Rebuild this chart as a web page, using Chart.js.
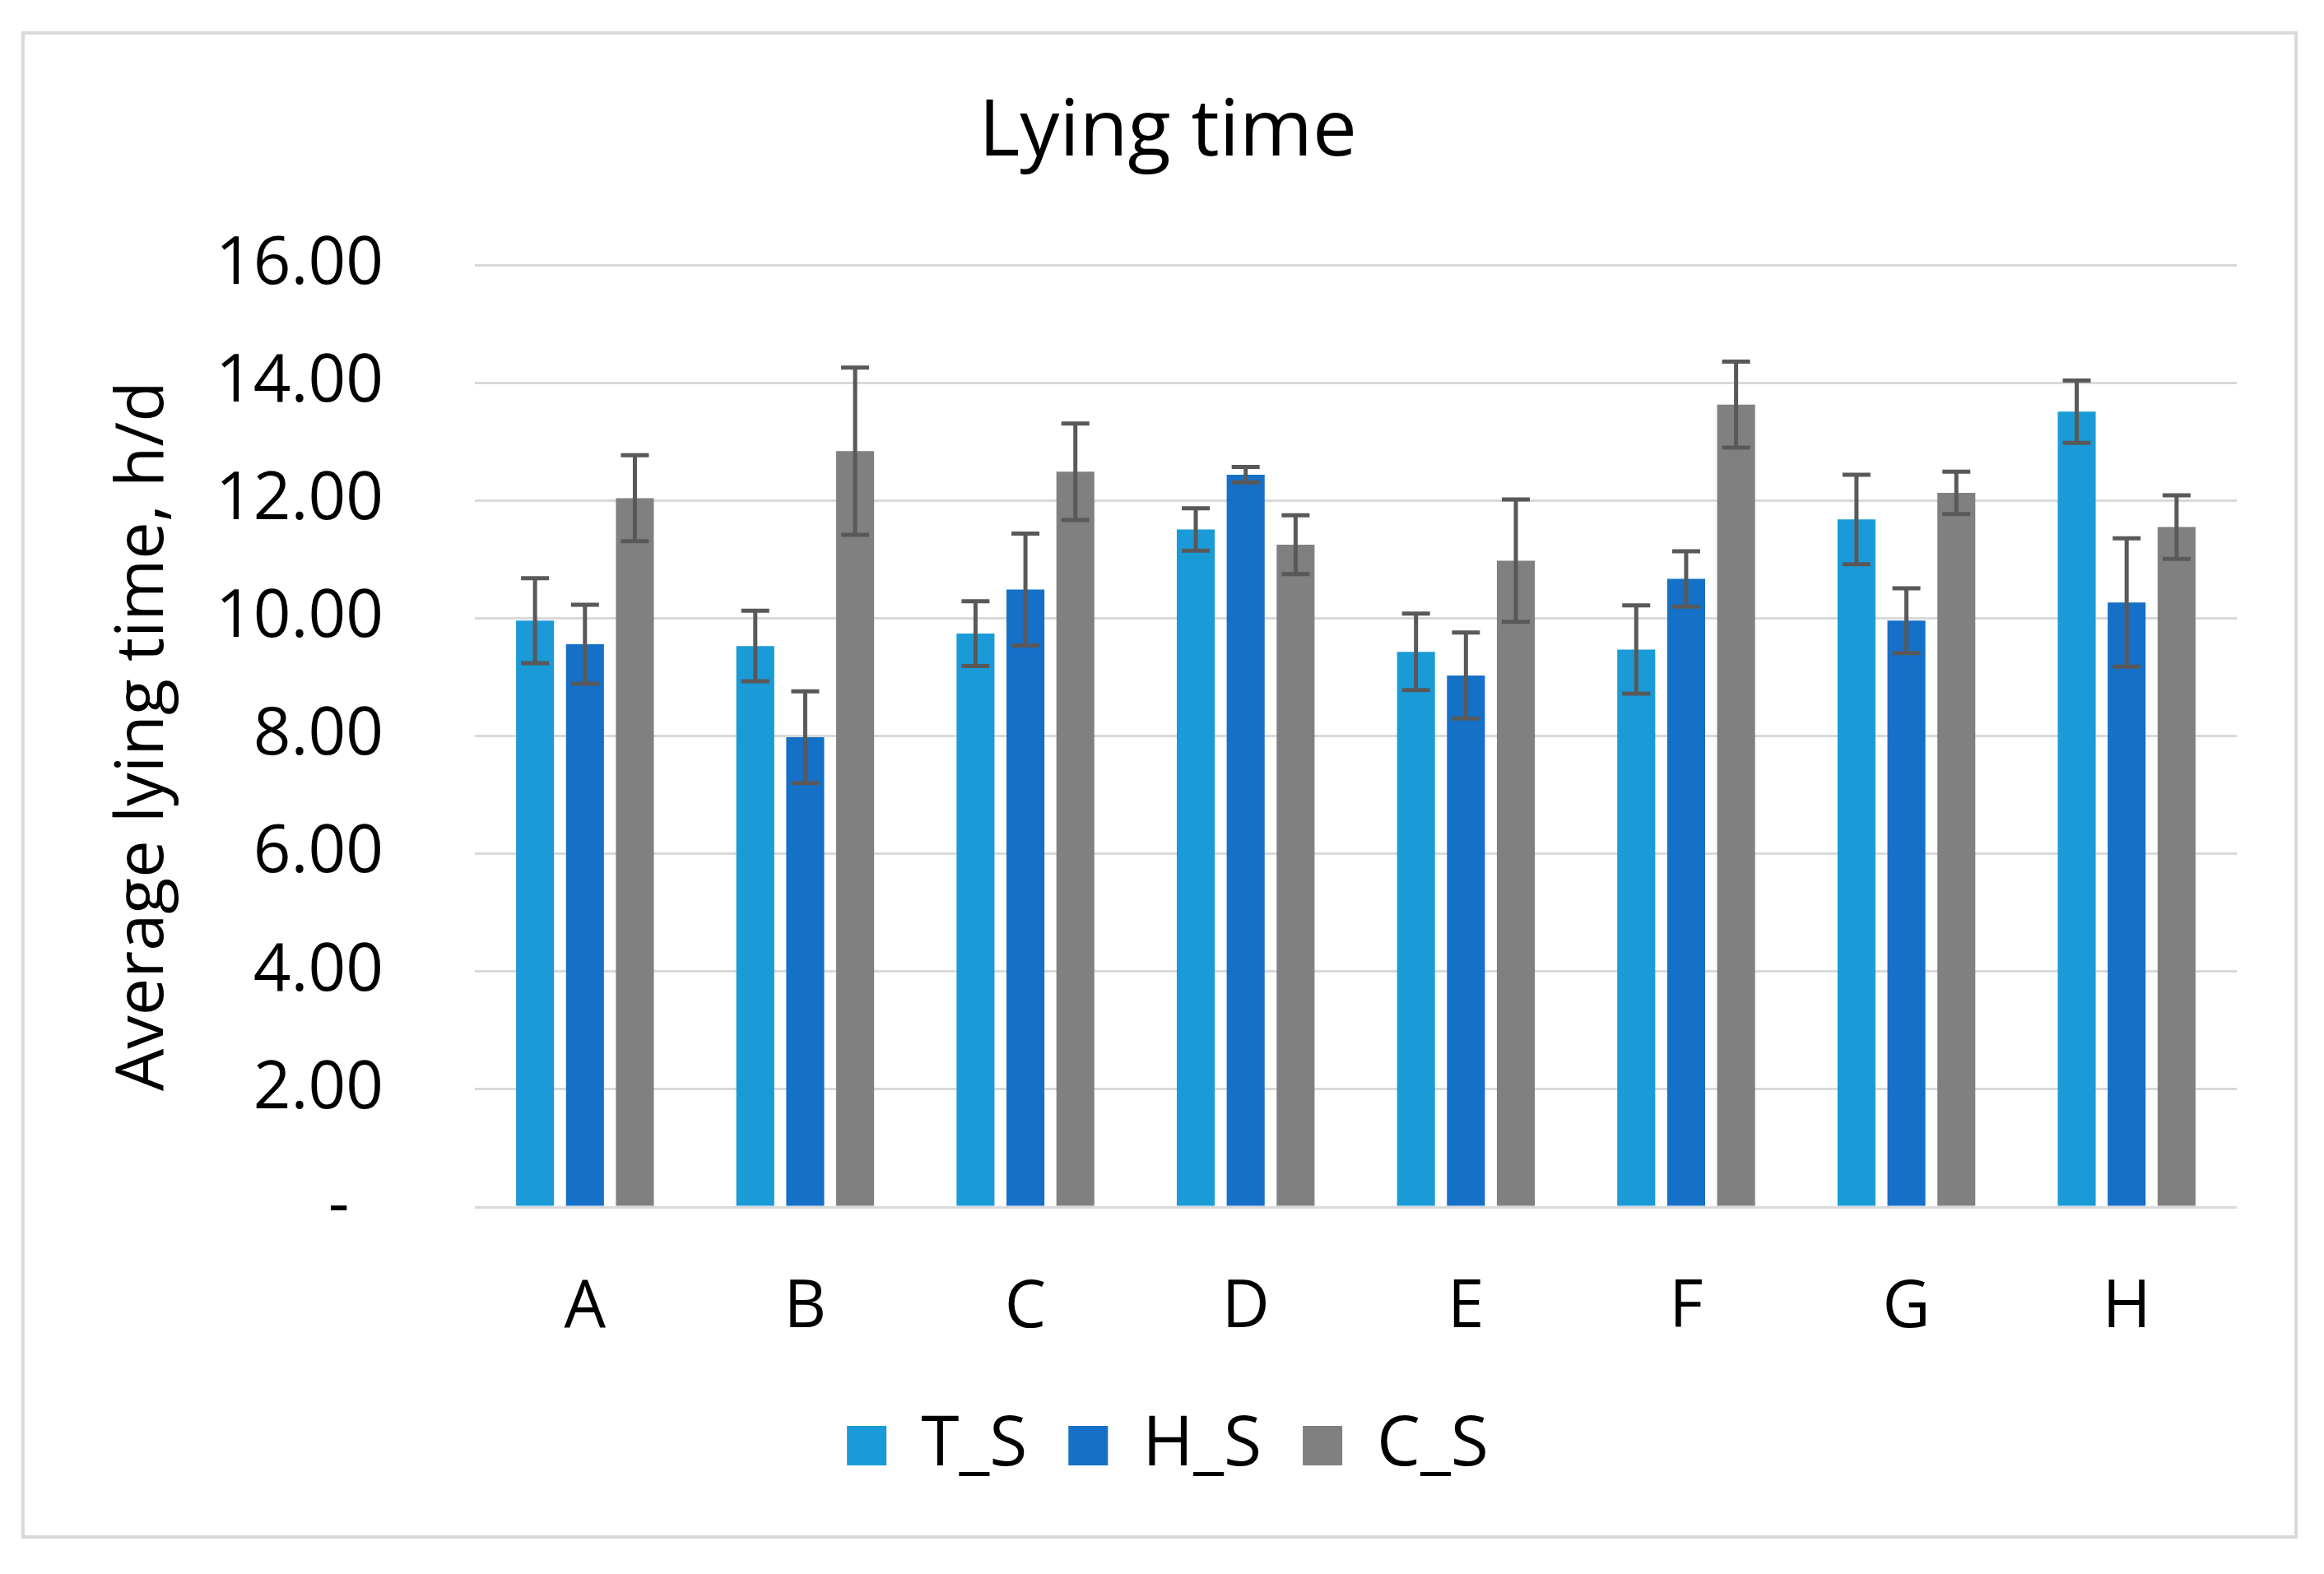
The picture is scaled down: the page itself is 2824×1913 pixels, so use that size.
<!DOCTYPE html>
<html>
<head>
<meta charset="utf-8">
<script src="https://cdn.jsdelivr.net/npm/chart.js@4.4.1/dist/chart.umd.min.js"></script>
<style>
  html, body { margin: 0; padding: 0; background: #fff; }
  #wrap { position: absolute; left: 0; top: 0; width: 2824px; height: 1913px; }
</style>
</head>
<body>
<div id="wrap"><canvas id="chart_plot"></canvas></div>
<script>
// categories and series
var categories = ['A', 'B', 'C', 'D', 'E', 'F', 'G', 'H'];
var seriesNames = ['T_S', 'H_S', 'C_S'];
var tsValues = [9.96, 9.53, 9.74, 11.51, 9.43, 9.47, 11.68, 13.51];
var hsValues = [9.56, 7.98, 10.49, 12.44, 9.03, 10.67, 9.96, 10.27];
var csValues = [12.04, 12.84, 12.49, 11.25, 10.98, 13.63, 12.13, 11.55];
// error bar half-widths (+/-)
var tsErr = [0.72, 0.60, 0.55, 0.36, 0.65, 0.75, 0.76, 0.53];
var hsErr = [0.67, 0.78, 0.95, 0.13, 0.73, 0.47, 0.55, 1.09];
var csErr = [0.73, 1.42, 0.82, 0.50, 1.04, 0.73, 0.36, 0.54];
var yTicks = [0, 2, 4, 6, 8, 10, 12, 14, 16];

var FONT = '"Open Sans", "Noto Sans", sans-serif';

// frame around the whole chart
var framePlugin = {
    id: 'frame',
    beforeDraw: function(chart) {
        var ctx = chart.ctx;
        ctx.save();
        ctx.fillStyle = '#ffffff';
        ctx.fillRect(0, 0, chart.width, chart.height);
        ctx.strokeStyle = '#d9d9d9';
        ctx.lineWidth = 4;
        ctx.strokeRect(28, 40, 2762, 1828);
        ctx.restore();
    }
};

// pull the legend up closer to the axis labels (keeps item spacing)
var legendShift = {
    id: 'legendShift',
    afterLayout: function(chart) {
        if (chart.legend) {
            chart.legend.top -= 48;
            chart.legend.bottom -= 48;
        }
    }
};

// error bars drawn through the y scale
var errorBarPlugin = {
    id: 'errorBars',
    afterDatasetsDraw: function(chart) {
        var ctx = chart.ctx;
        var yScale = chart.scales.y;
        ctx.save();
        ctx.strokeStyle = '#595959';
        ctx.lineWidth = 5;
        chart.data.datasets.forEach(function(ds, di) {
            var meta = chart.getDatasetMeta(di);
            meta.data.forEach(function(bar, i) {
                var v = ds.data[i];
                var e = ds.errors[i];
                var yTop = yScale.getPixelForValue(v + e);
                var yBot = yScale.getPixelForValue(v - e);
                var half = 17;
                ctx.beginPath();
                ctx.moveTo(bar.x, yTop);
                ctx.lineTo(bar.x, yBot);
                ctx.moveTo(bar.x - half, yTop);
                ctx.lineTo(bar.x + half, yTop);
                ctx.moveTo(bar.x - half, yBot);
                ctx.lineTo(bar.x + half, yBot);
                ctx.stroke();
            });
        });
        ctx.restore();
    }
};

var ctx = document.getElementById('chart_plot');

var myChart = new Chart(ctx, {
    type: 'bar',
    data: {
        labels: categories,
        datasets: [{
            label: seriesNames[0],
            data: tsValues,
            errors: tsErr,
            backgroundColor: '#1a9bd7'
        }, {
            label: seriesNames[1],
            data: hsValues,
            errors: hsErr,
            backgroundColor: '#1570c8'
        }, {
            label: seriesNames[2],
            data: csValues,
            errors: csErr,
            backgroundColor: '#808080'
        }]
    },
    options: {
        responsive: true,
        maintainAspectRatio: false,
        animation: false,
        datasets: {
            bar: {
                categoryPercentage: 0.68,
                barPercentage: 0.76
            }
        },
        layout: {
            padding: { left: 120, right: 106, top: 0, bottom: 56 }
        },
        plugins: {
            title: {
                display: true,
                text: 'Lying time',
                color: '#000',
                font: { family: FONT, size: 96, weight: 'normal' },
                padding: { top: 104, bottom: 103 }
            },
            legend: {
                position: 'bottom',
                labels: {
                    color: '#000',
                    font: { family: FONT, size: 84 },
                    boxWidth: 48,
                    boxHeight: 48,
                    padding: 50
                }
            },
            tooltip: { enabled: false }
        },
        scales: {
            x: {
                grid: { display: false, drawTicks: false },
                border: { display: false },
                ticks: {
                    color: '#000',
                    font: { family: FONT, size: 80 },
                    padding: 75
                }
            },
            y: {
                min: 0,
                max: 16,
                afterBuildTicks: function(scale) {
                    scale.ticks = yTicks.map(function(v) { return { value: v }; });
                },
                afterFit: function(scale) {
                    scale.width = 577 - 120;
                },
                grid: { color: '#d9d9d9', lineWidth: 3, drawTicks: false },
                border: { display: false },
                ticks: {
                    color: '#000',
                    font: { family: FONT, size: 80 },
                    padding: 111,
                    callback: function(value) {
                        return value === 0 ? '-  ' : value.toFixed(2);
                    }
                },
                title: {
                    display: true,
                    text: 'Average lying time, h/d',
                    color: '#000',
                    font: { family: FONT, size: 81 },
                    padding: { top: 6, bottom: 0 }
                }
            }
        }
    },
    plugins: [framePlugin, legendShift, errorBarPlugin]
});
</script>
</body>
</html>
